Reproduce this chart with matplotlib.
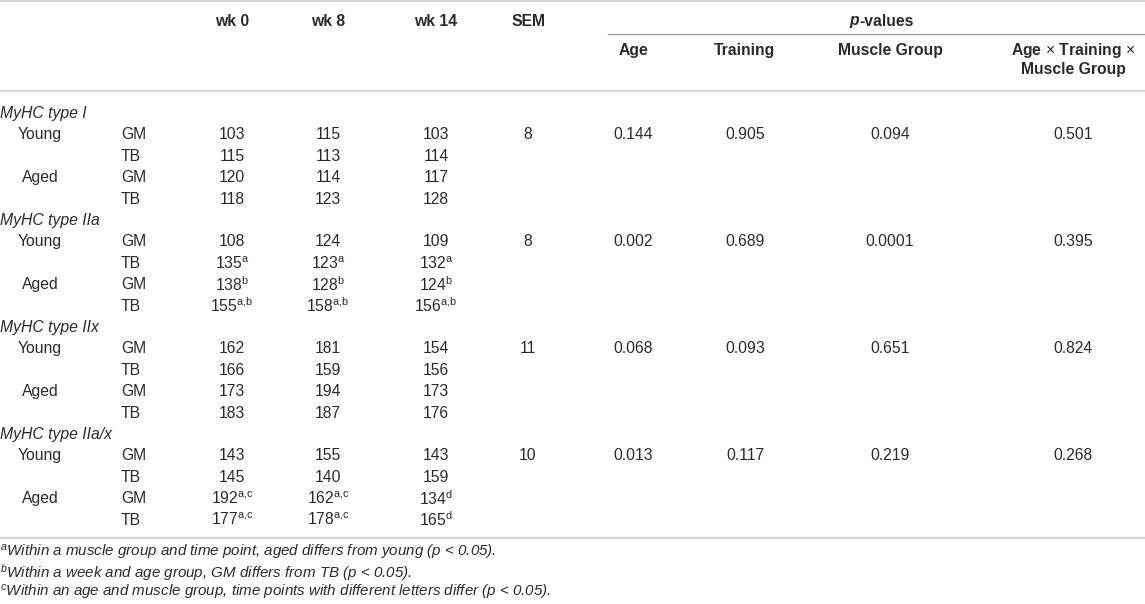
import matplotlib
matplotlib.use("Agg")
import matplotlib.pyplot as plt

# table content
types = ["MyHC type I", "MyHC type IIa", "MyHC type IIx", "MyHC type IIa/x"]
ages = ["Young", "Aged"]
muscles = ["GM", "TB"]
week_cols = ["wk 0", "wk 8", "wk 14"]
p_cols = ["Age", "Training", "Muscle Group", "Age $\\times$ Training $\\times$\nMuscle Group"]

# per type: Young GM, Young TB, Aged GM, Aged TB
wk0 = [[103, 115, 120, 118], [108, 135, 138, 155], [162, 166, 173, 183], [143, 145, 192, 177]]
wk8 = [[115, 113, 114, 123], [124, 123, 128, 158], [181, 159, 194, 187], [155, 140, 162, 178]]
wk14 = [[103, 114, 117, 128], [109, 132, 124, 156], [154, 156, 173, 176], [143, 159, 134, 165]]
sup0 = [["", "", "", ""], ["", "a", "b", "a,b"], ["", "", "", ""], ["", "", "a,c", "a,c"]]
sup8 = [["", "", "", ""], ["", "a", "b", "a,b"], ["", "", "", ""], ["", "", "a,c", "a,c"]]
sup14 = [["", "", "", ""], ["", "a", "b", "a,b"], ["", "", "", ""], ["", "", "d", "d"]]
sem = [8, 8, 11, 10]
p_age = ["0.144", "0.002", "0.068", "0.013"]
p_training = ["0.905", "0.689", "0.093", "0.117"]
p_muscle = ["0.094", "0.0001", "0.651", "0.219"]
p_inter = ["0.501", "0.395", "0.824", "0.268"]
footnotes = [("a", "Within a muscle group and time point, aged differs from young (p < 0.05)."),
             ("b", "Within a week and age group, GM differs from TB (p < 0.05)."),
             ("c", "Within an age and muscle group, time points with different letters differ (p < 0.05).")]

plt.rcParams["font.family"] = ["Liberation Sans", "DejaVu Sans"]
plt.rcParams["mathtext.fontset"] = "custom"
plt.rcParams["mathtext.rm"] = "Liberation Sans"
plt.rcParams["mathtext.it"] = "Liberation Sans:italic"
plt.rcParams["mathtext.bf"] = "Liberation Sans:bold"

W, H = 1145, 604
fig = plt.figure(figsize=(W / 100, H / 100), dpi=100)
ax = fig.add_axes([0, 0, 1, 1])
ax.set_xlim(0, W); ax.set_ylim(H, 0); ax.axis("off")

FS = 11.3
TXT = "#2a2a2a"
LINE = "#d6d6d6"
x_age, x_mus = 40, 121
x_wk = [232, 328, 436]
x_sem = 528
x_p = [633, 745, 890, 1073]

# rules
for y in (1, 91, 538):
    ax.plot([0, W], [y, y], color=LINE, lw=1.6, solid_capstyle="butt")
ax.plot([608, W], [34, 34], color="#9a9a9a", lw=0.9)

# header
for x, lab in zip(x_wk, week_cols):
    ax.text(x, 21, lab, ha="center", va="center", fontsize=FS, fontweight="bold", color=TXT)
ax.text(x_sem, 21, "SEM", ha="center", va="center", fontsize=FS, fontweight="bold", color=TXT)
ax.text(859, 21, "p", ha="right", va="center", fontsize=FS, fontweight="bold", style="italic", color=TXT)
ax.text(859, 21, "-values", ha="left", va="center", fontsize=FS, fontweight="bold", color=TXT)
for x, lab in zip(x_p, p_cols):
    for k, part in enumerate(lab.split("\n")):
        ax.text(x, 50 + 19.5 * k, part, ha="center", va="center", fontsize=FS,
                fontweight="bold", color=TXT)

def val(v, s):
    return f"{v}$^{{\\mathrm{{{s.replace(',', '{,}')}}}}}$" if s else str(v)

row_h = 21.4
y0 = 112
i = 0
for t in range(len(types)):
    y = y0 + row_h * i
    ax.text(0, y, types[t], ha="left", va="center_baseline", fontsize=FS, style="italic", color=TXT)
    i += 1
    top = y0 + row_h * i
    ax.text(x_sem, top, str(sem[t]), ha="center", va="center_baseline", fontsize=FS, color=TXT)
    for x, pv in zip(x_p, (p_age, p_training, p_muscle, p_inter)):
        ax.text(x, top, pv[t], ha="center", va="center_baseline", fontsize=FS, color=TXT)
    for r in range(4):
        y = y0 + row_h * i
        if r % 2 == 0:
            ax.text(x_age, y, ages[r // 2], ha="center", va="center_baseline", fontsize=FS, color=TXT)
        ax.text(x_mus, y, muscles[r % 2], ha="left", va="center_baseline", fontsize=FS, color=TXT)
        for x, vals, sups in zip(x_wk, (wk0, wk8, wk14), (sup0, sup8, sup14)):
            ax.text(x, y, val(vals[t][r], sups[t][r]), ha="center", va="center_baseline",
                    fontsize=FS, color=TXT)
        i += 1

for k, (letter, note) in enumerate(footnotes):
    ax.text(0, 550 + 20 * k, f"$^{{{letter}}}$" + note.replace("(p", "($p$"),
            ha="left", va="center_baseline", fontsize=10.9, style="italic", color=TXT)

fig.savefig("out.png", dpi=100)
